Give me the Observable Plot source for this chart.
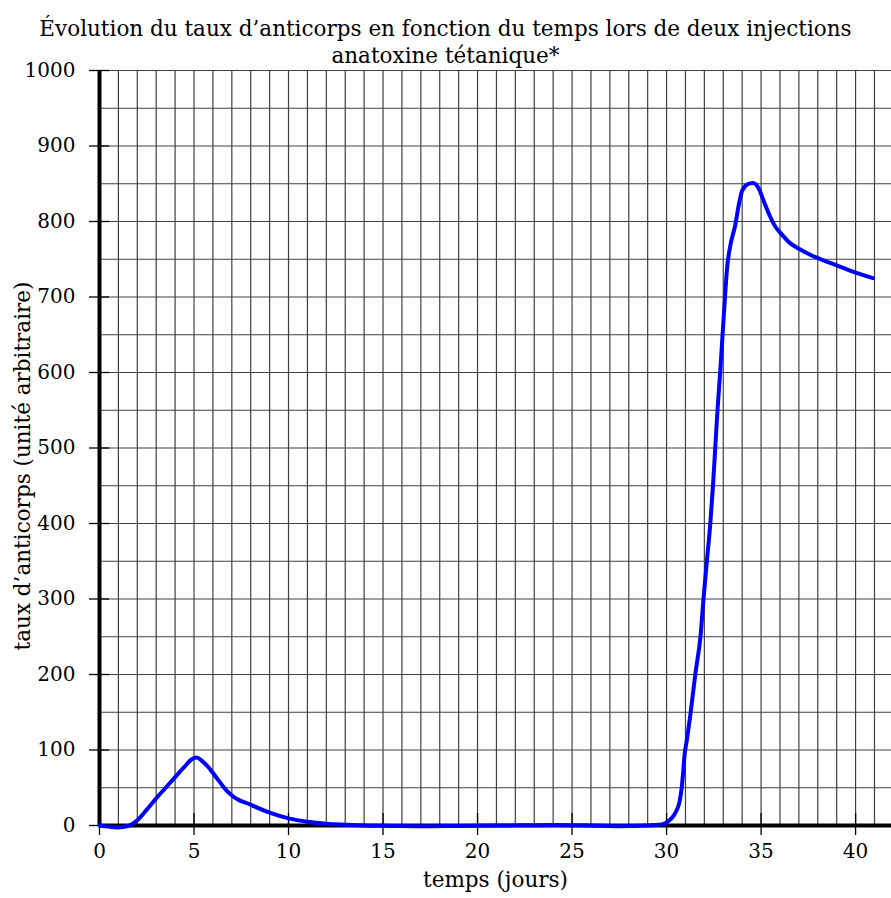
<!DOCTYPE html>
<html>
<head>
<meta charset="utf-8">
<script src="https://cdn.jsdelivr.net/npm/d3@7"></script>
<script src="https://cdn.jsdelivr.net/npm/@observablehq/plot@0.6"></script>
<style>
  body { margin: 0; background: white; }
  #wrap { position: relative; width: 891px; height: 898px; }
  .title { position: absolute; left: 0; width: 891px; text-align: center;
           font-family: "DejaVu Serif", serif; font-size: 21.5px; line-height: 28px; color: #000; }
</style>
</head>
<body>
<div id="wrap">
  <div id="chart"></div>
  <div class="title" style="top:15px">Évolution du taux d’anticorps en fonction du temps lors de deux injections</div>
  <div class="title" style="top:42px">anatoxine tétanique*</div>
</div>
<script>
// time (days)
const days = [0, 0.5, 0.9, 1.45, 2, 2.5, 3, 3.5, 4, 4.5, 4.9, 5.15, 5.4, 5.7, 6.2, 6.7, 7.1, 8, 9, 10, 11, 12, 13, 14, 15.5, 17, 19, 21, 24, 26, 27.5, 29, 29.6, 29.9, 30.2, 30.47, 30.69, 30.8, 30.88, 30.95, 31.06, 31.25, 31.53, 31.8, 31.96, 32.14, 32.32, 32.46, 32.58, 32.7, 32.84, 32.96, 33.06, 33.2, 33.38, 33.64, 33.82, 33.99, 34.26, 34.57, 34.87, 35.14, 35.4, 35.76, 36.02, 36.55, 37, 37.6, 38.3, 39, 39.7, 40.92];
// antibody level (arbitrary units)
const antibody = [0, -1.5, -2.5, -1, 7, 21, 36, 50, 64, 78, 88, 90, 86, 79, 63, 47, 38, 27.5, 17, 9.5, 5, 2.3, 1, 0, -0.5, -1, -0.5, 0, 0.5, 0, -1, 0, 1, 2.5, 8, 17, 32, 50, 71, 93, 111, 145, 202, 252, 302, 352, 402, 452, 502, 552, 602, 649, 688, 738, 769, 796, 822, 840, 849, 851, 844, 827, 811, 793, 785, 771, 764, 756, 748.5, 742, 735, 725];
const xTicks = [0, 5, 10, 15, 20, 25, 30, 35, 40];
const yTicks = [0, 100, 200, 300, 400, 500, 600, 700, 800, 900, 1000];
const xGrid = d3.range(0, 42, 1);
const yGrid = d3.range(0, 1001, 50);
const xMax = 41.9;
const xLabel = "temps (jours)";
const yLabel = "taux d’anticorps (unité arbitraire)";

const data = days.map((t, i) => ({t, v: antibody[i]}));

const chart = Plot.plot({
  width: 891,
  height: 898,
  marginLeft: 99,
  marginRight: 0,
  marginTop: 70,
  marginBottom: 73,
  style: {fontFamily: "DejaVu Serif", background: "white", overflow: "visible", color: "black"},
  x: {domain: [0, xMax], axis: null},
  y: {domain: [0, 1000], axis: null},
  marks: [
    Plot.ruleX(xGrid, {x: d => d, y1: 0, y2: 1000, stroke: "#404040", strokeWidth: 1.2}),
    Plot.ruleY(yGrid, {y: d => d, x1: 0, x2: xMax, stroke: "#404040", strokeWidth: 1.2}),
    Plot.ruleX(xTicks, {x: d => d, y1: 0, y2: 0, insetTop: -12, insetBottom: -10, stroke: "black", strokeWidth: 1.3}),
    Plot.ruleY(yTicks, {y: d => d, x1: 0, x2: 0, insetLeft: -10, insetRight: -10, stroke: "black", strokeWidth: 1.3}),
    Plot.ruleX([0], {x: d => d, y1: 0, y2: 1000, stroke: "black", strokeWidth: 4}),
    Plot.ruleY([0], {y: d => d, x1: 0, x2: xMax, stroke: "black", strokeWidth: 4}),
    Plot.line(data, {x: "t", y: "v", stroke: "#0000ff", strokeWidth: 4, curve: "monotone-x"}),
    Plot.text(xTicks, {x: d => d, text: d => String(d), frameAnchor: "bottom", dy: 32, fontSize: 20, fill: "black"}),
    Plot.text(yTicks, {y: d => d, text: d => String(d), frameAnchor: "left", textAnchor: "end", dx: -24, fontSize: 20, fill: "black"}),
    Plot.text([xLabel], {text: d => d, frameAnchor: "bottom", dy: 61, fontSize: 21.5, fill: "black"}),
    Plot.text([yLabel], {text: d => d, frameAnchor: "left", textAnchor: "middle", rotate: -90, dx: -76, dy: 18, fontSize: 21.5, fill: "black"})
  ]
});
document.getElementById("chart").appendChild(chart);
</script>
</body>
</html>
